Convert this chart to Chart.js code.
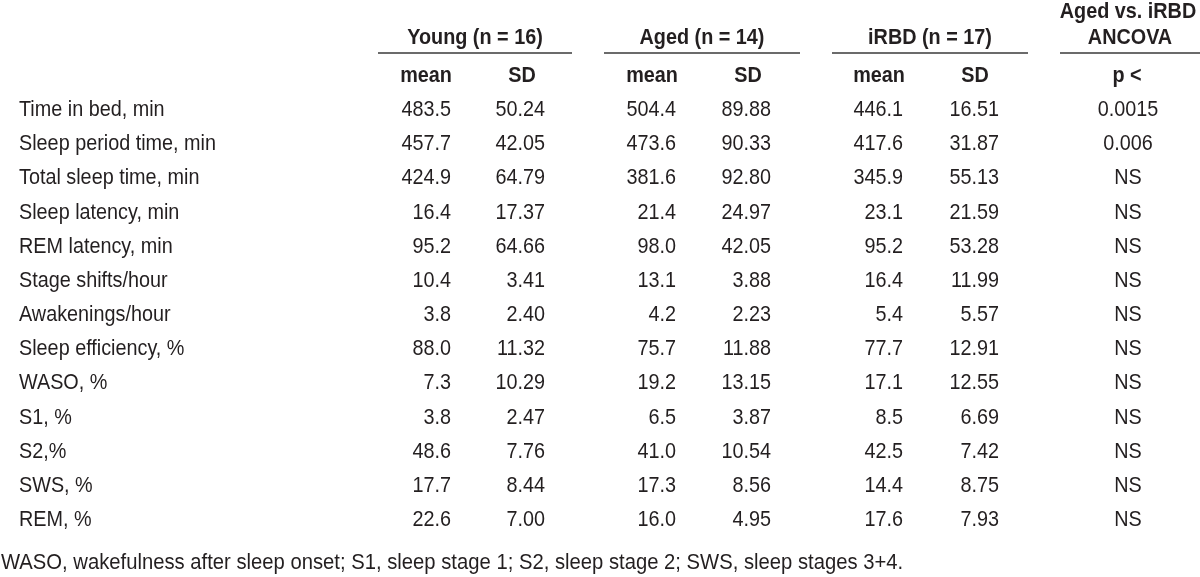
<!DOCTYPE html>
<html>
<head>
<meta charset="utf-8">
<script src="https://cdn.jsdelivr.net/npm/chart.js@4/dist/chart.umd.min.js"></script>
<style>
  html, body { margin: 0; padding: 0; background: #fff; }
  #wrap { width: 1200px; height: 577px; }
</style>
</head>
<body>
<div id="wrap"><canvas id="sleep-table"></canvas></div>
<script>
// ================= DỮ LIỆU =================
const rowLabels = [
  "Time in bed, min", "Sleep period time, min", "Total sleep time, min",
  "Sleep latency, min", "REM latency, min", "Stage shifts/hour",
  "Awakenings/hour", "Sleep efficiency, %", "WASO, %", "S1, %",
  "S2,%", "SWS, %", "REM, %"
];
const youngMean = ["483.5", "457.7", "424.9", "16.4", "95.2", "10.4", "3.8", "88.0", "7.3", "3.8", "48.6", "17.7", "22.6"];
const youngSD = ["50.24", "42.05", "64.79", "17.37", "64.66", "3.41", "2.40", "11.32", "10.29", "2.47", "7.76", "8.44", "7.00"];
const agedMean = ["504.4", "473.6", "381.6", "21.4", "98.0", "13.1", "4.2", "75.7", "19.2", "6.5", "41.0", "17.3", "16.0"];
const agedSD = ["89.88", "90.33", "92.80", "24.97", "42.05", "3.88", "2.23", "11.88", "13.15", "3.87", "10.54", "8.56", "4.95"];
const irbdMean = ["446.1", "417.6", "345.9", "23.1", "95.2", "16.4", "5.4", "77.7", "17.1", "8.5", "42.5", "14.4", "17.6"];
const irbdSD = ["16.51", "31.87", "55.13", "21.59", "53.28", "11.99", "5.57", "12.91", "12.55", "6.69", "7.42", "8.75", "7.93"];
const pValues = ["0.0015", "0.006", "NS", "NS", "NS", "NS", "NS", "NS", "NS", "NS", "NS", "NS", "NS"];

const groupTitles = ["Young (n = 16)", "Aged (n = 14)", "iRBD (n = 17)", "ANCOVA"];
const subHeaders = ["mean", "SD", "mean", "SD", "mean", "SD", "p <"];
const footnote = "WASO, wakefulness after sleep onset; S1, sleep stage 1; S2, sleep stage 2; SWS, sleep stages 3+4.";

// ================= BỐ CỤC =================
const FONT = "'Liberation Sans Narrow', 'Arial Narrow', 'Liberation Sans', Arial, sans-serif";
const TEXT_COLOR = "#231f20";
const FS = 22;
const NARROW = 0.9; // chữ hẹp như Arial Narrow

// neo cột (x, căn lề)
const columns = [
  { key: "label", values: rowLabels, x: 19, align: "left" },
  { key: "youngMean", values: youngMean, x: 451, align: "right" },
  { key: "youngSD", values: youngSD, x: 545, align: "right" },
  { key: "agedMean", values: agedMean, x: 676, align: "right" },
  { key: "agedSD", values: agedSD, x: 771, align: "right" },
  { key: "irbdMean", values: irbdMean, x: 903, align: "right" },
  { key: "irbdSD", values: irbdSD, x: 999, align: "right" },
  { key: "p", values: pValues, x: 1128, align: "center" }
];
const groupLines = [[378, 572], [604, 800], [832, 1028], [1060, 1200]];
const subHeaderX = [426, 522, 652, 748, 879, 975, 1127];

function narrowText(ctx, text, x, y, sx) {
  ctx.save();
  ctx.translate(x, y);
  ctx.scale(sx || NARROW, 1);
  ctx.fillText(text, 0, 0);
  ctx.restore();
}

// ================= PLUGIN VẼ CHỮ =================
const tablePlugin = {
  id: "tableText",
  afterDatasetsDraw(chart) {
    const ctx = chart.ctx;
    ctx.save();
    ctx.fillStyle = TEXT_COLOR;
    ctx.textBaseline = "middle";

    // ô dữ liệu theo vị trí của từng điểm
    chart.data.datasets.forEach((ds, di) => {
      const meta = chart.getDatasetMeta(di);
      const col = columns[di];
      ctx.font = FS + "px " + FONT;
      ctx.textAlign = col.align;
      meta.data.forEach((pt, i) => {
        narrowText(ctx, col.values[i], pt.x, pt.y + 1);
      });
    });

    // tiêu đề nhóm
    ctx.font = "bold " + FS + "px " + FONT;
    ctx.textAlign = "center";
    groupLines.forEach((ln, i) => {
      narrowText(ctx, groupTitles[i], (ln[0] + ln[1]) / 2, 38);
    });
    narrowText(ctx, "Aged vs. iRBD", 1128, 12);

    // đường kẻ dưới tiêu đề
    ctx.strokeStyle = "#3a3a3a";
    ctx.lineWidth = 1.5;
    groupLines.forEach(ln => {
      ctx.beginPath();
      ctx.moveTo(ln[0], 53);
      ctx.lineTo(ln[1], 53);
      ctx.stroke();
    });

    // mean / SD / p <
    subHeaders.forEach((s, i) => {
      narrowText(ctx, s, subHeaderX[i], 76);
    });

    // chú thích
    ctx.font = FS + "px " + FONT;
    ctx.textAlign = "left";
    narrowText(ctx, footnote, 1, 563, 0.92);
    ctx.restore();
  }
};

// ================= BIỂU ĐỒ =================
const tableCtx = document.getElementById("sleep-table").getContext("2d");
new Chart(tableCtx, {
  type: "scatter",
  data: {
    labels: rowLabels,
    datasets: columns.map(col => ({
      label: col.key,
      data: col.values.map((v, i) => ({ x: col.x, y: i })),
      pointRadius: 0,
      pointHoverRadius: 0
    }))
  },
  options: {
    responsive: true,
    maintainAspectRatio: false,
    animation: false,
    events: [],
    layout: { padding: { top: 92, bottom: 41, left: 0, right: 0 } },
    plugins: {
      legend: { display: false },
      tooltip: { enabled: false }
    },
    scales: {
      x: { type: "linear", min: 0, max: 1200, display: false },
      y: { type: "category", labels: rowLabels, offset: true, display: false }
    }
  },
  plugins: [tablePlugin]
});
</script>
</body>
</html>
